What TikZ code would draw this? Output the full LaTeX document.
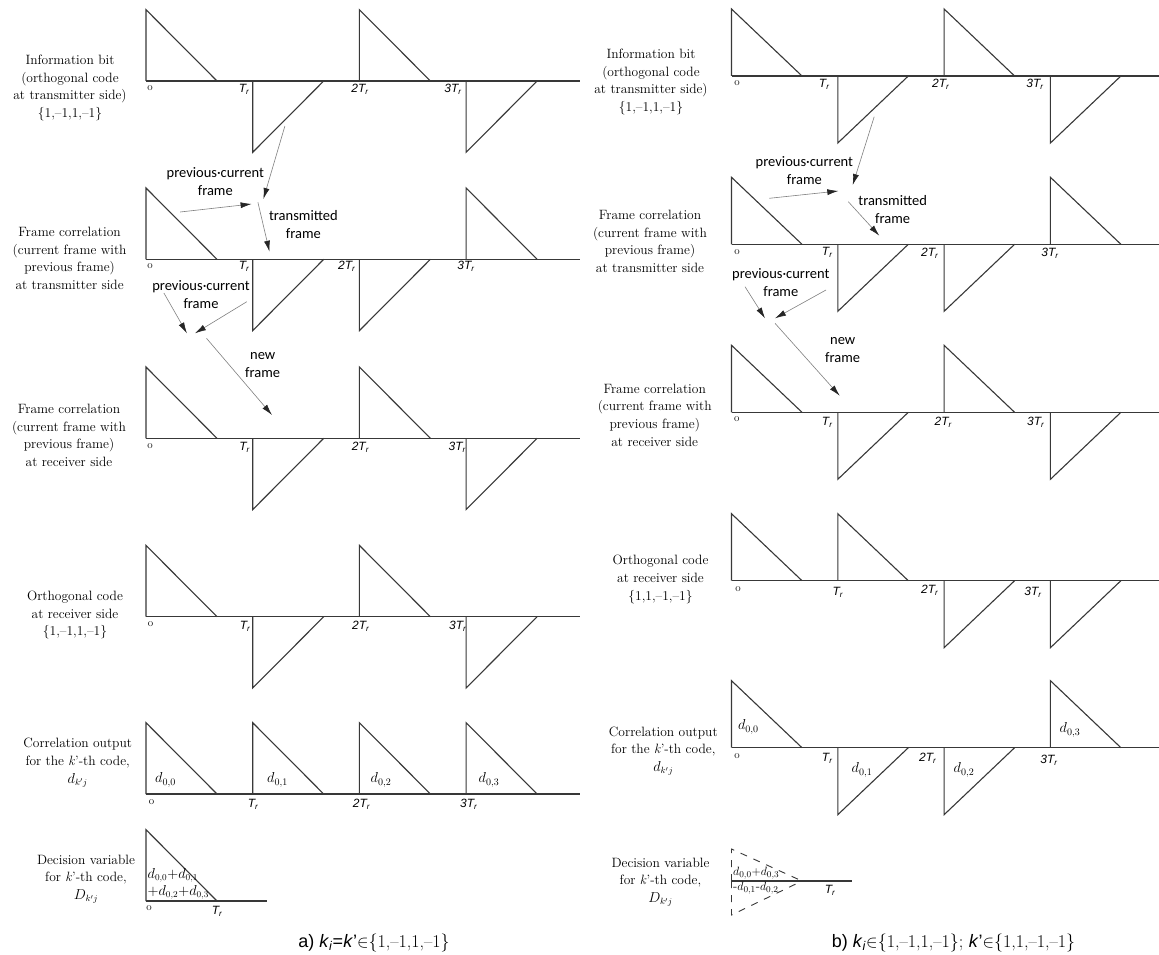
\documentclass[tikz,border=0pt]{standalone}
\usepackage{fontspec}
\setsansfont{Liberation Sans}
\newfontfamily\carl{Carlito}
\usetikzlibrary{arrows.meta}
\tikzset{
 sig/.style={draw=black!78, line width=1.1pt, line join=miter},
 dsig/.style={draw=black!78, line width=0.9pt, dash pattern=on 7pt off 7pt},
 lab/.style={align=center, font=\fontsize{13.5}{17.7}\selectfont, inner sep=0pt},
 ann/.style={align=center, font=\carl\fontsize{14.5}{18}\selectfont, inner sep=0pt},
 tk/.style={font=\sffamily\itshape\fontsize{12}{12}\selectfont, inner sep=0pt},
 zo/.style={font=\fontsize{11}{11}\selectfont, inner sep=0pt},
 dl/.style={font=\fontsize{14}{14}\selectfont, inner sep=0pt},
 dsum/.style={font=\fontsize{13.5}{17}\selectfont, inner sep=0pt, align=left, anchor=west},
 arr/.style={draw=black!50, line width=0.6pt, -{Latex[length=11pt,width=6pt,color=black!85]}},
 captxt/.style={font=\sffamily\fontsize{18}{18}\selectfont, inner sep=0pt},
}
\newcommand\wavrow[7]{%
  \draw[sig] (#1,#2) -- (#7,#2);
  \foreach \s [count=\i from 0] in {#6}{%
    \pgfmathsetmacro\xa{#1+\i*#4}%
    \pgfmathsetmacro\xb{#1+\i*#4+#5}%
    \pgfmathsetmacro\yt{#2-(\s)*#3}%
    \draw[sig] (\xa,#2) -- (\xa,\yt) -- (\xb,#2);
  }%
}
\newcommand\Tr[1]{\textit{#1T}\textsubscript{\textit{r}}}
\begin{document}
\begin{tikzpicture}[x=1pt,y=-1pt]
\useasboundingbox[fill=white] (0,0) rectangle (1159,955);

% ---------------- LEFT PANEL ----------------
\wavrow{146}{81}{71.3}{106.7}{71}{1,-1,1,-1}{580}
\wavrow{146}{259.3}{71.3}{106.7}{71}{1,-1,-1,1}{580}
\wavrow{146}{438.3}{71.3}{106.7}{71}{1,-1,1,-1}{580}
\wavrow{146}{616.7}{71.3}{106.7}{71}{1,-1,1,-1}{580}
\wavrow{146}{794}{71.3}{106.7}{71}{1,1,1,1}{580}
\wavrow{146}{901}{71.3}{106.7}{71}{1}{267}

\node[lab] (L1) at (70,88) {Information bit\\(orthogonal code\\at transmitter side)\\\{1,--1,1,--1\}};
\node[lab] (L2) at (69.6,258.3) {Frame correlation\\(current frame with\\previous frame)\\at transmitter side};
\node[lab] (L3) at (69,435.5) {Frame correlation\\(current frame with\\previous frame)\\at receiver side};
\node[lab] (L4) at (75,615) {Orthogonal code\\at receiver side\\\{1,--1,1,--1\}};
\node[lab] (L5) at (77.7,762.5) {Correlation output\\for the \textit{k}’-th code,\\$d_{k'j}$};
\node[lab] (L6) at (86,879) {Decision variable\\for \textit{k}’-th code,\\$D_{k'j}$};

% tick labels left
\node[zo] (lo1) at (150,88) {o};
\node[tk] (lt1) at (244,89) {\Tr{}};
\node[tk] (l2t1) at (360,89) {\Tr{2}};
\node[tk] (l3t1) at (453,89) {\Tr{3}};
\node[zo] (lo2) at (150,266) {o};
\node[tk] (lt2) at (244,266) {\Tr{}};
\node[tk] (l2t2) at (346.7,266) {\Tr{2}};
\node[tk] (l3t2) at (466,266) {\Tr{3}};
\node[zo] (lo3) at (150,446) {o};
\node[tk] (lt3) at (244.5,447) {\Tr{}};
\node[tk] (l2t3) at (360.4,447) {\Tr{2}};
\node[tk] (l3t3) at (457.3,447) {\Tr{3}};
\node[zo] (lo4) at (150.5,624) {o};
\node[tk] (lt4) at (245,626) {\Tr{}};
\node[tk] (l2t4) at (360.8,626) {\Tr{2}};
\node[tk] (l3t4) at (457.7,626) {\Tr{3}};
\node[zo] (lo5) at (151.5,802) {o};
\node[tk] (lt5) at (253,804) {\Tr{}};
\node[tk] (l2t5) at (361.5,804) {\Tr{2}};
\node[tk] (l3t5) at (468.8,804) {\Tr{3}};
\node[zo] (lo6) at (149,908) {o};
\node[tk] (lt6) at (217,911) {\Tr{}};

% d labels left
\node[dl] (ld0) at (165.5,780) {$d_{0,0}$};
\node[dl] (ld1) at (277.5,780) {$d_{0,1}$};
\node[dl] (ld2) at (381,780) {$d_{0,2}$};
\node[dl] (ld3) at (489,780) {$d_{0,3}$};
\node[dsum] (lsum) at (147.5,884) {$d_{0,0}{+}d_{0,1}$\\${+}d_{0,2}{+}d_{0,3}$};

% annotations left
\node[ann] (lpc1) at (215.3,182) {previous·current\\frame};
\node[ann] (ltf) at (303.4,224.5) {transmitted\\frame};
\node[ann] (lpc2) at (201,295) {previous·current\\frame};
\node[ann] (lnf) at (262.7,365.3) {new\\frame};
\coordinate (a1s) at (284.9,126);
\coordinate (a1e) at (263.4,199);
\coordinate (a2s) at (180.2,212);
\coordinate (a2e) at (251.6,204);
\coordinate (a3s) at (257.9,202.3);
\coordinate (a3e) at (269.5,251.7);
\coordinate (a4s) at (163.9,293);
\coordinate (a4e) at (186.9,333.3);
\coordinate (a5s) at (246.8,301.7);
\coordinate (a5e) at (195,333.3);
\coordinate (a6s) at (206.5,338.3);
\coordinate (a6e) at (272,415);
\draw[arr] (a1s) -- (a1e);
\draw[arr] (a2s) -- (a2e);
\draw[arr] (a3s) -- (a3e);
\draw[arr] (a4s) -- (a4e);
\draw[arr] (a5s) -- (a5e);
\draw[arr] (a6s) -- (a6e);

\node[captxt] (capa) at (374,943) {a) \textit{k}\textsubscript{\textit{i}}=\textit{k}’{\rmfamily$\in$\{1,--1,1,--1\}}};

% ---------------- RIGHT PANEL ----------------
\wavrow{731.5}{76}{67}{106.3}{70.5}{1,-1,1,-1}{1159}
\wavrow{731.5}{244.3}{67}{106.3}{70.5}{1,-1,-1,1}{1159}
\wavrow{731.5}{412.3}{67}{106.3}{70.5}{1,-1,1,-1}{1159}
\wavrow{731.5}{580.7}{67}{106.3}{70.5}{1,1,-1,-1}{1159}
\wavrow{731.5}{747.7}{67}{106.3}{70.5}{1,-1,-1,1}{1159}
\draw[sig] (731.5,881) -- (852,881);
\draw[dsig] (731.5,881) -- (731.5,849) -- (802,881);
\draw[dsig] (731.5,881) -- (731.5,915) -- (802,881);

\node[lab] (R1) at (651,82) {Information bit\\(orthogonal code\\at transmitter side)\\\{1,--1,1,--1\}};
\node[lab] (R2) at (650,241.3) {Frame correlation\\(current frame with\\previous frame)\\at transmitter side};
\node[lab] (R3) at (654.7,415) {Frame correlation\\(current frame with\\previous frame)\\at receiver side};
\node[lab] (R4) at (660.5,579.5) {Orthogonal code\\at receiver side\\\{1,1,--1,--1\}};
\node[lab] (R5) at (663.3,751) {Correlation output\\for the \textit{k}’-th code,\\$d_{k'j}$};
\node[lab] (R6) at (660.5,882.2) {Decision variable\\for \textit{k}’-th code,\\$D_{k'j}$};

% tick labels right
\node[zo] (ro1) at (737,83) {o};
\node[tk] (rt1) at (824.2,84) {\Tr{}};
\node[tk] (r2t1) at (940.8,84) {\Tr{2}};
\node[tk] (r3t1) at (1035,84) {\Tr{3}};
\node[zo] (ro2) at (737,252) {o};
\node[tk] (rt2) at (827.2,252) {\Tr{}};
\node[tk] (r2t2) at (929.7,253) {\Tr{2}};
\node[tk] (r3t2) at (1050,253) {\Tr{3}};
\node[zo] (ro3) at (736.7,419) {o};
\node[tk] (rt3) at (827.2,422) {\Tr{}};
\node[tk] (r2t3) at (943.3,422) {\Tr{2}};
\node[tk] (r3t3) at (1035.8,422) {\Tr{3}};
\node[zo] (ro4) at (738,589) {o};
\node[tk] (rt4) at (837.9,592) {\Tr{}};
\node[tk] (r2t4) at (929.7,590) {\Tr{2}};
\node[tk] (r3t4) at (1033,592) {\Tr{3}};
\node[zo] (ro5) at (737,756) {o};
\node[tk] (rt5) at (827.2,758) {\Tr{}};
\node[tk] (r2t5) at (927.8,758) {\Tr{2}};
\node[tk] (r3t5) at (1049,760) {\Tr{3}};
\node[tk] (rt6) at (830,890) {\Tr{}};

% d labels right
\node[dl] (rd0) at (748.4,727) {$d_{0,0}$};
\node[dl] (rd1) at (862,770) {$d_{0,1}$};
\node[dl] (rd2) at (964,770) {$d_{0,2}$};
\node[dl] (rd3) at (1070,730) {$d_{0,3}$};
\node[dsum, font=\fontsize{13}{15}\selectfont] (rsum) at (733,880.8) {$d_{0,0}{+}d_{0,3}$\\\textrm{-}$d_{0,1}$\textrm{-}$d_{0,2}$};

% annotations right
\node[ann] (rpc1) at (804.4,170.3) {previous·current\\frame};
\node[ann] (rtf) at (892.7,210) {transmitted\\frame};
\node[ann] (rpc2) at (780.8,283) {previous·current\\frame};
\node[ann] (rnf) at (842.7,350) {new\\frame};
\coordinate (b1s) at (874.2,116.7);
\coordinate (b1e) at (852.7,185);
\coordinate (b2s) at (769.3,198.3);
\coordinate (b2e) at (838.3,191);
\coordinate (b3s) at (848.3,201.7);
\coordinate (b3e) at (879.3,235.7);
\coordinate (b4s) at (745,286.7);
\coordinate (b4e) at (765,318.3);
\coordinate (b5s) at (826,290);
\coordinate (b5e) at (775,318.3);
\coordinate (b6s) at (775,323.3);
\coordinate (b6e) at (839.7,395.7);
\draw[arr] (b1s) -- (b1e);
\draw[arr] (b2s) -- (b2e);
\draw[arr] (b3s) -- (b3e);
\draw[arr] (b4s) -- (b4e);
\draw[arr] (b5s) -- (b5e);
\draw[arr] (b6s) -- (b6e);

\node[captxt] (capb) at (953.5,943) {b) \textit{k}\textsubscript{\textit{i}}{\rmfamily$\in$\{1,--1,1,--1\}; }\textit{k}’{\rmfamily$\in$\{1,1,--1,--1\}}};
\end{tikzpicture}
\end{document}
